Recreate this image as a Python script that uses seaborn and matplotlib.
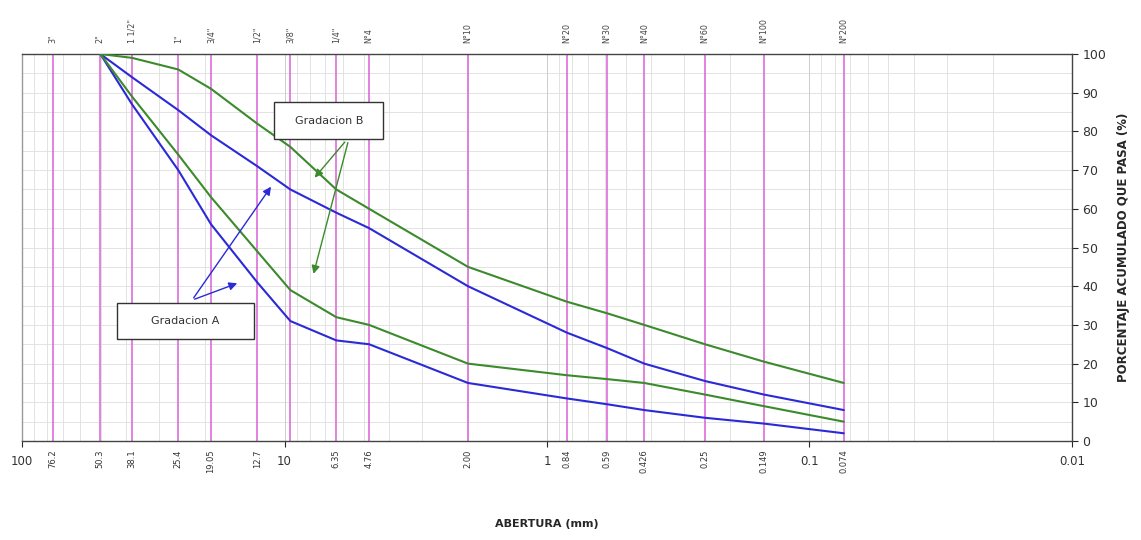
import pandas as pd
import matplotlib
matplotlib.use("Agg")
import matplotlib.pyplot as plt
import seaborn as sns
import numpy as np

# Tamices (mm) y designaciones
tamiz_mm = [76.2, 50.3, 38.1, 25.4, 19.05, 12.7, 9.5, 6.35, 4.76, 2.00, 0.84, 0.59, 0.426, 0.25, 0.149, 0.074]
tamiz_mm_txt = ["76.2", "50.3", "38.1", "25.4", "19.05", "12.7", "", "6.35", "4.76", "2.00",
                "0.84", "0.59", "0.426", "0.25", "0.149", "0.074"]
tamiz_nombre = ['3"', '2"', '1 1/2"', '1"', '3/4"', '1/2"', '3/8"', '1/4"', 'N°4', 'N°10',
                'N°20', 'N°30', 'N°40', 'N°60', 'N°100', 'N°200']

# Curvas granulometricas (% que pasa)
abertura = [50.3, 38.1, 25.4, 19.05, 12.7, 9.5, 6.35, 4.76, 2.00, 0.84, 0.59, 0.426, 0.25, 0.149, 0.074]
a_sup = [100, 94, 85.5, 79, 71, 65, 59, 55, 40, 28, 24, 20, 15.5, 12, 8]
a_inf = [100, 87, 70, 56, 41, 31, 26, 25, 15, 11, 9.5, 8, 6, 4.5, 2]
b_sup = [100, 99, 96, 91, 82, 76, 65, 60, 45, 36, 33, 30, 25, 20.5, 15]
b_inf = [100, 89, 74, 63, 49, 39, 32, 30, 20, 17, 16, 15, 12, 9, 5]

azul = "#2a2ad6"
verde = "#3b8a2c"

df = pd.concat([
    pd.DataFrame({"mm": abertura, "pasa": a_sup, "curva": "A sup"}),
    pd.DataFrame({"mm": abertura, "pasa": a_inf, "curva": "A inf"}),
    pd.DataFrame({"mm": abertura, "pasa": b_sup, "curva": "B sup"}),
    pd.DataFrame({"mm": abertura, "pasa": b_inf, "curva": "B inf"}),
])

sns.set_style("white")
fig = plt.figure(figsize=(11.41, 5.40), dpi=100)
ax = fig.add_axes([0.0193, 0.1833, 0.9202, 0.7167])
ax.set_xscale("log")
ax.set_xlim(100, 0.01)
ax.set_ylim(0, 100)

# grilla fina
sub = np.outer(10.0 ** np.arange(-2, 2), np.arange(2, 10)).ravel()
ax.vlines(sub, 0, 100, color="#dedede", lw=0.6, zorder=0)
ax.hlines(np.arange(5, 100, 5), 100, 0.01, color="#dedede", lw=0.6, zorder=0)
ax.vlines([10, 1, 0.1], 0, 100, color="#cccccc", lw=0.7, zorder=0)
# tamices
ax.vlines(tamiz_mm, 0, 100, color="#dc6ddc", lw=1.2, zorder=1)

sns.lineplot(data=df, x="mm", y="pasa", hue="curva", units="curva", estimator=None,
             palette={"A sup": azul, "A inf": azul, "B sup": verde, "B inf": verde},
             lw=1.5, legend=False, ax=ax, zorder=3)

ax.set_xscale("log")
ax.set_xlim(100, 0.01)
ax.set_ylim(0, 100)

# eje x inferior
ax.set_xticks([100, 10, 1, 0.1, 0.01])
ax.set_xticklabels(["100", "10", "1", "0.1", "0.01"], fontsize=8.5, color="#333333")
ax.set_xticks(tamiz_mm, minor=True)
ax.set_xticklabels(tamiz_mm_txt, minor=True, fontsize=6, color="#333333")
ax.tick_params(axis="x", which="major", direction="out", length=4, pad=6, bottom=True)
ax.tick_params(axis="x", which="minor", length=0, pad=6, labelrotation=90)
ax.set_xlabel("ABERTURA (mm)", fontsize=8, fontweight="bold", labelpad=33)

# eje y a la derecha
ax.yaxis.tick_right()
ax.yaxis.set_label_position("right")
ax.set_yticks(range(0, 101, 10))
ax.tick_params(axis="y", labelsize=9, labelcolor="#333333", direction="out", length=4, right=True)
ax.set_ylabel("PORCENTAJE ACUMULADO QUE PASA (%)", fontsize=8.5, fontweight="bold", labelpad=8)

for s in ax.spines.values():
    s.set_color("#444444")
    s.set_linewidth(1.0)
ax.spines["left"].set_color("#999999")

# eje superior con designaciones
top = ax.twiny()
top.set_xscale("log")
top.set_xlim(100, 0.01)
top.set_xticks(tamiz_mm)
top.set_xticklabels(tamiz_nombre, fontsize=5.8, color="#444444", rotation=90)
top.xaxis.set_minor_locator(matplotlib.ticker.NullLocator())
top.tick_params(axis="x", length=0, pad=8)
for s in top.spines.values():
    s.set_visible(False)

# anotaciones
caja = dict(boxstyle="square,pad=1.2", fc="white", ec="#333333", lw=1.0)
flecha_v = dict(arrowstyle="-|>", color=verde, lw=1.0, mutation_scale=12)
flecha_a = dict(arrowstyle="-|>", color=azul, lw=1.0, mutation_scale=12)
ax.annotate("", xy=(7.8, 67.5), xytext=(5.8, 77.8), arrowprops=flecha_v, zorder=5)
ax.annotate("", xy=(7.8, 42.5), xytext=(5.7, 77.8), arrowprops=flecha_v, zorder=5)
ax.text(6.77, 82.8, "  Gradacion B  ", fontsize=8, color="#333333", ha="center", va="center",
        bbox=caja, zorder=6)
ax.annotate("", xy=(11.1, 66.3), xytext=(22.5, 36.4), arrowprops=flecha_a, zorder=5)
ax.annotate("", xy=(14.8, 41), xytext=(22.5, 36.4), arrowprops=flecha_a, zorder=5)
ax.text(23.9, 31, "      Gradacion A      ", fontsize=8, color="#333333", ha="center", va="center",
        bbox=caja, zorder=6)

plt.savefig("out.png", dpi=100)
